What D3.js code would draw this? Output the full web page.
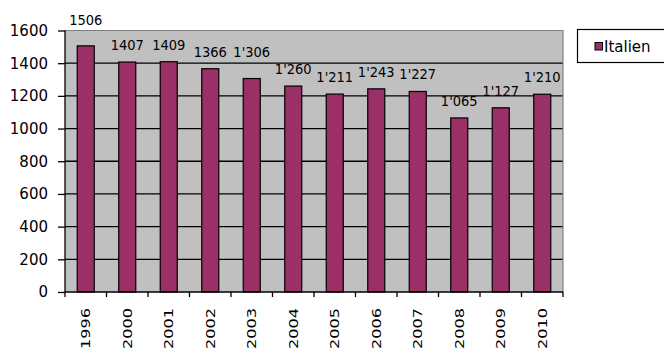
<!DOCTYPE html>
<html>
<head>
<meta charset="utf-8">
<script src="https://cdn.jsdelivr.net/npm/d3@7"></script>
<style>
  html, body { margin: 0; padding: 0; background: #fff; }
  svg { display: block; }
  text { font-family: "DejaVu Sans", Verdana, sans-serif; fill: #000; }
</style>
</head>
<body>
<svg id="chart" width="664" height="349"></svg>
<script>
// Italien: yearly values
const years = ["1996", "2000", "2001", "2002", "2003", "2004", "2005", "2006", "2007", "2008", "2009", "2010"];
const values = [1506, 1407, 1409, 1366, 1306, 1260, 1211, 1243, 1227, 1065, 1127, 1210];
const valueLabels = ["1506", "1407", "1409", "1366", "1'306", "1'260", "1'211", "1'243", "1'227", "1'065", "1'127", "1'210"];
const yTicks = [0, 200, 400, 600, 800, 1000, 1200, 1400, 1600];
const seriesName = "Italien";

const svg = d3.select("#chart");
const plot = { left: 65, right: 563, top: 30.5, bottom: 292 };

const x = d3.scaleBand().domain(years).range([plot.left, plot.right]).paddingInner(0.59).paddingOuter(0.295);
const xEdges = d3.scaleBand().domain(years).range([plot.left, plot.right]).padding(0);
const y = d3.scaleLinear().domain([0, 1600]).range([plot.bottom, plot.top]);

// plot background
svg.append("rect")
  .attr("x", plot.left).attr("y", plot.top)
  .attr("width", plot.right - plot.left).attr("height", plot.bottom - plot.top)
  .attr("fill", "#c0c0c0");

// gridlines
svg.append("g").selectAll("line")
  .data(yTicks.filter(d => d > 0 && d < 1600))
  .join("line")
  .attr("x1", plot.left).attr("x2", plot.right)
  .attr("y1", d => y(d)).attr("y2", d => y(d))
  .attr("stroke", "#000").attr("stroke-width", 1.3);

// top and right border of the plot area
svg.append("path")
  .attr("d", `M${plot.left},${plot.top}H${plot.right}V${plot.bottom}`)
  .attr("fill", "none").attr("stroke", "#808080").attr("stroke-width", 1.2);

// bars
svg.append("g").selectAll("rect")
  .data(years)
  .join("rect")
  .attr("x", (d) => x(d))
  .attr("width", x.bandwidth())
  .attr("y", (d, i) => y(values[i]))
  .attr("height", (d, i) => y(0) - y(values[i]))
  .attr("fill", "#9a3066")
  .attr("stroke", "#000").attr("stroke-width", 1.2);

// y axis
const yAxis = d3.axisLeft(y).tickValues(yTicks).tickFormat(d3.format("d")).tickSize(7).tickPadding(10);
const gy = svg.append("g").attr("transform", `translate(${plot.left},0)`).call(yAxis);
gy.select(".domain").attr("stroke", "#000").attr("stroke-width", 1.3).attr("d", `M0,${plot.top}V${plot.bottom}`);
gy.selectAll(".tick line").attr("stroke", "#000").attr("stroke-width", 1.3);
gy.selectAll(".tick text").attr("font-size", 15).attr("font-family", "DejaVu Sans").attr("fill", "#000");

// x axis line and boundary ticks
svg.append("line")
  .attr("x1", plot.left).attr("x2", plot.right)
  .attr("y1", plot.bottom).attr("y2", plot.bottom)
  .attr("stroke", "#000").attr("stroke-width", 1.3);
const edges = years.map(d => xEdges(d)).concat([plot.right]);
svg.append("g").selectAll("line")
  .data(edges)
  .join("line")
  .attr("x1", d => d).attr("x2", d => d)
  .attr("y1", plot.bottom).attr("y2", plot.bottom + 5)
  .attr("stroke", "#000").attr("stroke-width", 1.3);

// rotated year labels
svg.append("g").selectAll("text")
  .data(years)
  .join("text")
  .attr("transform", d => `translate(${x(d) + x.bandwidth() / 2},${plot.bottom + 16}) rotate(-90)`)
  .attr("text-anchor", "end")
  .attr("dy", "0.36em")
  .attr("font-size", 12)
  .attr("textLength", 41)
  .attr("lengthAdjust", "spacingAndGlyphs")
  .text(d => d);

// value labels above bars; nudged up when they would sit across a gridline
const lineYs = yTicks.filter(d => d > 0).map(d => y(d));
svg.append("g").selectAll("text")
  .data(years)
  .join("text")
  .attr("x", d => x(d) + x.bandwidth() / 2)
  .attr("y", (d, i) => {
    let base = y(values[i]) - 12;
    const top = base - 10;
    const hit = lineYs.find(ly => ly > top + 1 && ly < base - 2);
    if (hit !== undefined) base = hit - 6;
    return base;
  })
  .attr("text-anchor", "middle")
  .attr("font-size", 14.5)
  .attr("font-stretch", "condensed")
  .style("font-family", "'DejaVu Sans Condensed', 'DejaVu Sans', sans-serif")
  .text((d, i) => valueLabels[i]);

// legend
const lg = svg.append("g");
lg.append("rect")
  .attr("x", 577.5).attr("y", 29.5).attr("width", 100).attr("height", 33)
  .attr("fill", "#fff").attr("stroke", "#000").attr("stroke-width", 1.2);
lg.append("rect")
  .attr("x", 595).attr("y", 42.5).attr("width", 7.5).attr("height", 7.5)
  .attr("fill", "#9a3066").attr("stroke", "#000").attr("stroke-width", 1);
lg.append("text")
  .attr("x", 604).attr("y", 51.5)
  .attr("font-size", 15)
  .text(seriesName);
</script>
</body>
</html>
